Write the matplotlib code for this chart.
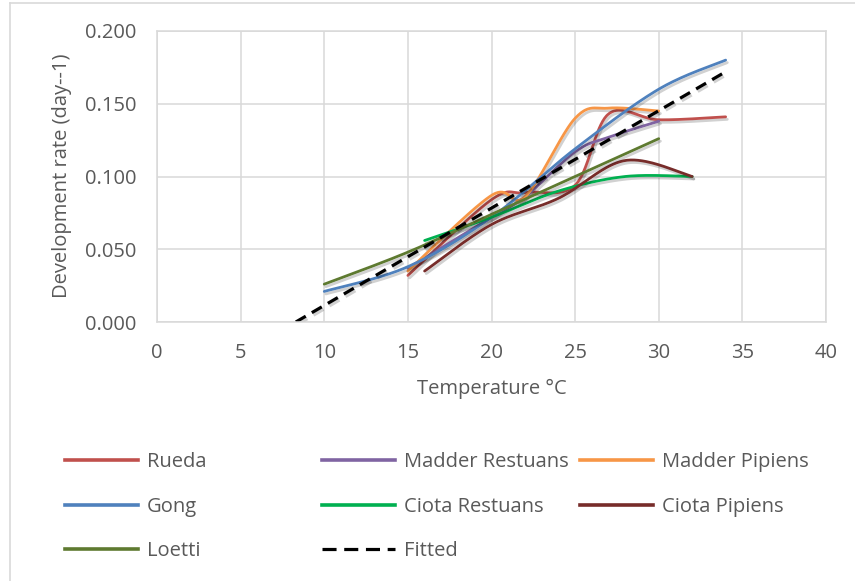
import numpy as np
import matplotlib
matplotlib.use("Agg")
import matplotlib.pyplot as plt
import matplotlib.patheffects as pe
from matplotlib.lines import Line2D

plt.rcParams['font.family'] = ['Open Sans', 'DejaVu Sans']

# data (temperature in C, rate in day^-1)
rueda_t = [15, 20, 22, 25, 27, 30, 34]
rueda_r = [0.032, 0.084, 0.089, 0.094, 0.143, 0.139, 0.141]

madder_res_t = [15, 20, 22, 25, 27, 30]
madder_res_r = [0.037, 0.072, 0.086, 0.117, 0.127, 0.138]

madder_pip_t = [15, 20, 22, 25, 27, 30]
madder_pip_r = [0.035, 0.087, 0.086, 0.140, 0.147, 0.145]

gong_t = [10, 15, 20, 25, 30, 34]
gong_r = [0.021, 0.038, 0.072, 0.119, 0.160, 0.180]

ciota_res_t = [16, 20, 24, 28, 32]
ciota_res_r = [0.056, 0.072, 0.090, 0.100, 0.100]

ciota_pip_t = [16, 20, 24, 28, 32]
ciota_pip_r = [0.035, 0.067, 0.085, 0.111, 0.100]

loetti_t = [10, 15, 20, 25, 30]
loetti_r = [0.026, 0.048, 0.074, 0.100, 0.126]

fitted_t = [8.3, 34]
fitted_r = [0.0, 0.172]

labels = ['Rueda', 'Madder Restuans', 'Madder Pipiens', 'Gong',
          'Ciota Restuans', 'Ciota Pipiens', 'Loetti']
colors = ['#C0504D', '#8064A2', '#F79646', '#4F81BD',
          '#00B050', '#772C2A', '#5E7A30']
series = [(rueda_t, rueda_r), (madder_res_t, madder_res_r),
          (madder_pip_t, madder_pip_r), (gong_t, gong_r),
          (ciota_res_t, ciota_res_r), (ciota_pip_t, ciota_pip_r),
          (loetti_t, loetti_r)]


def smooth(xs, ys, n=40):
    # excel-like smoothed line (catmull-rom bezier), done in screen-ish scale
    sy = 87.0
    P = np.column_stack([np.asarray(xs, float), np.asarray(ys, float) * sy])
    out = []
    for i in range(len(P) - 1):
        p0 = P[i - 1] if i > 0 else P[i]
        p1, p2 = P[i], P[i + 1]
        p3 = P[i + 2] if i + 2 < len(P) else P[i + 1]
        c1 = p1 + (p2 - p0) / 6
        c2 = p2 - (p3 - p1) / 6
        t = np.linspace(0, 1, n)[:, None]
        seg = (1 - t)**3 * p1 + 3 * (1 - t)**2 * t * c1 + 3 * (1 - t) * t**2 * c2 + t**3 * p2
        out.append(seg if i == 0 else seg[1:])
    out = np.vstack(out)
    return out[:, 0], out[:, 1] / sy


fig = plt.figure(figsize=(8.55, 5.81), dpi=100)
ax = fig.add_axes([157 / 855, 1 - 322 / 581, 669 / 855, 291 / 581])

shadow = [pe.SimpleLineShadow(offset=(1.2, -1.8), shadow_color='black', alpha=0.18), pe.Normal()]
handles = []
for (t, r), lab, c in zip(series, labels, colors):
    sx, sr = smooth(t, r)
    ax.plot(sx, sr, color=c, lw=2.0, solid_capstyle='round', path_effects=shadow)
    handles.append(Line2D([], [], color=c, lw=2.6))

fl, = ax.plot(fitted_t, fitted_r, color='black', lw=2.3, path_effects=shadow)
fl.set_dashes([3.6, 2.2])
fit_handle = Line2D([], [], color='black', lw=2.3, dashes=[4.4, 2.4])

ax.set_xlim(0, 40)
ax.set_ylim(0, 0.2)
ax.set_xticks(range(0, 41, 5))
ax.set_yticks([0, 0.05, 0.1, 0.15, 0.2])
ax.set_yticklabels(['0.000', '0.050', '0.100', '0.150', '0.200'])
ax.grid(True, color='#D9D9D9', lw=1.1)
ax.set_axisbelow(True)
for s in ax.spines.values():
    s.set_color('#D9D9D9')
    s.set_linewidth(1.1)
ax.tick_params(length=0, labelsize=14.5, labelcolor='#595959')
ax.tick_params(axis='y', pad=15)
ax.tick_params(axis='x', pad=15)

fig.text(62 / 855, 1 - 176 / 581, 'Development rate (day--1)', rotation=90,
         ha='center', va='center', fontsize=14.5, color='#595959')
fig.text(492 / 855, 1 - 389 / 581, 'Temperature °C', ha='center', va='center',
         fontsize=14.5, color='#595959')

# legend: three fixed-width columns like excel
cols = [([handles[0], handles[3], handles[6]], ['Rueda', 'Gong', 'Loetti'], 65),
        ([handles[1], handles[4], fit_handle], ['Madder Restuans', 'Ciota Restuans', 'Fitted'], 322),
        ([handles[2], handles[5]], ['Madder Pipiens', 'Ciota Pipiens'], 580)]
for h, l, x0 in cols:
    fig.legend(h, l, loc='upper left', bbox_to_anchor=(x0 / 855, 1 - 452 / 581),
               frameon=False, fontsize=14.5, labelcolor='#595959',
               handlelength=3.6, handletextpad=0.45, labelspacing=1.22,
               borderpad=0, borderaxespad=0)

# outer chart border (top and left visible)
fig.add_artist(Line2D([10 / 855, 1], [1 - 2.5 / 581, 1 - 2.5 / 581], color='#D9D9D9', lw=1.2))
fig.add_artist(Line2D([9.5 / 855, 9.5 / 855], [0, 1 - 2.5 / 581], color='#D9D9D9', lw=1.2))

fig.savefig('out.png', dpi=100)
